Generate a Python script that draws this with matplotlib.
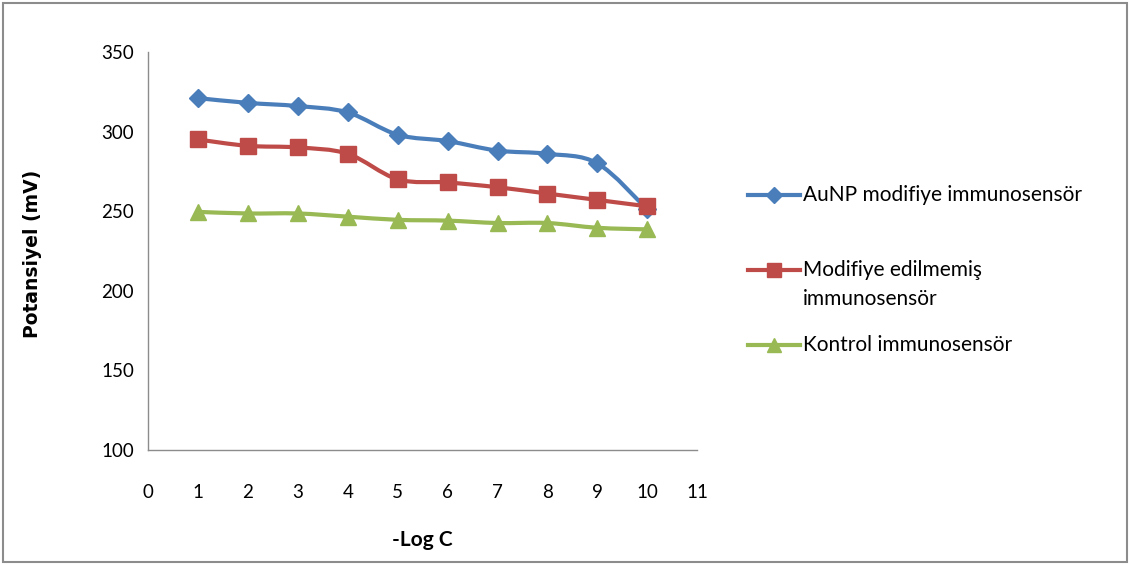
import matplotlib
matplotlib.use("Agg")
import matplotlib.pyplot as plt
from matplotlib.lines import Line2D
from matplotlib.patches import Rectangle, PathPatch
from matplotlib.path import Path

plt.rcParams["font.family"] = ["Lato", "DejaVu Sans"]

# Data
log_c = [1, 2, 3, 4, 5, 6, 7, 8, 9, 10]
aunp = [321, 318, 316, 312, 298, 294, 288, 286, 280, 251]
modifiye = [295, 291, 290, 286, 270, 268, 265, 261, 257, 253]
kontrol = [249.5, 248.5, 248.5, 246.5, 244.5, 244, 242.5, 242.5, 239.5, 238.5]

labels = ["AuNP modifiye immunosensör",
          "Modifiye edilmemiş\nimmunosensör",
          "Kontrol immunosensör"]
colors = ["#4A7EBB", "#BE4B48", "#98B954"]
markers = ["D", "s", "^"]
msizes = [9, 11, 11]


def smooth_path(xs, ys):
    # Excel-like smoothed line: cubic Bezier through the points
    pts = list(zip(xs, ys))
    verts = [pts[0]]
    codes = [Path.MOVETO]
    n = len(pts)
    for i in range(n - 1):
        p0 = pts[i - 1] if i > 0 else pts[i]
        p1 = pts[i]
        p2 = pts[i + 1]
        p3 = pts[i + 2] if i + 2 < n else pts[i + 1]
        c1 = (p1[0] + (p2[0] - p0[0]) / 6, p1[1] + (p2[1] - p0[1]) / 6)
        c2 = (p2[0] - (p3[0] - p1[0]) / 6, p2[1] - (p3[1] - p1[1]) / 6)
        verts += [c1, c2, p2]
        codes += [Path.CURVE4] * 3
    return Path(verts, codes)


fig = plt.figure(figsize=(11.3, 5.65), dpi=100)
ax = fig.add_axes([0.131, 0.204, 0.486, 0.704])

for ys, c, m, ms in zip([aunp, modifiye, kontrol], colors, markers, msizes):
    ax.add_patch(PathPatch(smooth_path(log_c, ys), fill=False, edgecolor=c,
                           lw=3, joinstyle="round", capstyle="round"))
    ax.plot(log_c, ys, linestyle="none", color=c, marker=m, markersize=ms,
            markeredgecolor=c)

ax.set_xlim(0, 11)
ax.set_ylim(100, 350)
ax.set_xticks(range(0, 12))
ax.set_yticks(range(100, 351, 50))
ax.tick_params(axis="x", length=0, pad=25, labelsize=13.5)
ax.tick_params(axis="y", length=0, pad=10, labelsize=13.5)
for s in ["top", "right"]:
    ax.spines[s].set_visible(False)
for s in ["left", "bottom"]:
    ax.spines[s].set_color("#8c8c8c")
    ax.spines[s].set_linewidth(1)

fig.text(0.374, 0.045, "-Log C", ha="center", va="center",
         fontsize=15, fontweight="bold")
fig.text(0.029, 0.55, "Potansiyel (mV)", ha="center", va="center",
         rotation=90, fontsize=13.5, fontweight="bold", family="DejaVu Sans")

# legend drawn by hand to keep Excel-like placement
leg_y = [195 / 565, 270 / 565, 345 / 565]
for lbl, c, m, ms, y in zip(labels, colors, markers, msizes, leg_y):
    yf = 1 - y
    fig.add_artist(Line2D([748 / 1130, 800 / 1130], [yf, yf], color=c, lw=3))
    fig.add_artist(Line2D([774 / 1130], [yf], color=c, marker=m,
                          markersize=ms * 0.9, markeredgecolor=c))
    fig.text(803 / 1130, yf, lbl.split("\n")[0], ha="left", va="center",
             fontsize=15)
    if "\n" in lbl:
        fig.text(803 / 1130, yf - 29 / 565, lbl.split("\n")[1], ha="left",
                 va="center", fontsize=15)

fig.add_artist(Rectangle((3 / 1130, 3 / 565), 1124 / 1130, 559 / 565,
                         fill=False, edgecolor="#8c8c8c", lw=1.5))

fig.savefig("out.png", dpi=100)
